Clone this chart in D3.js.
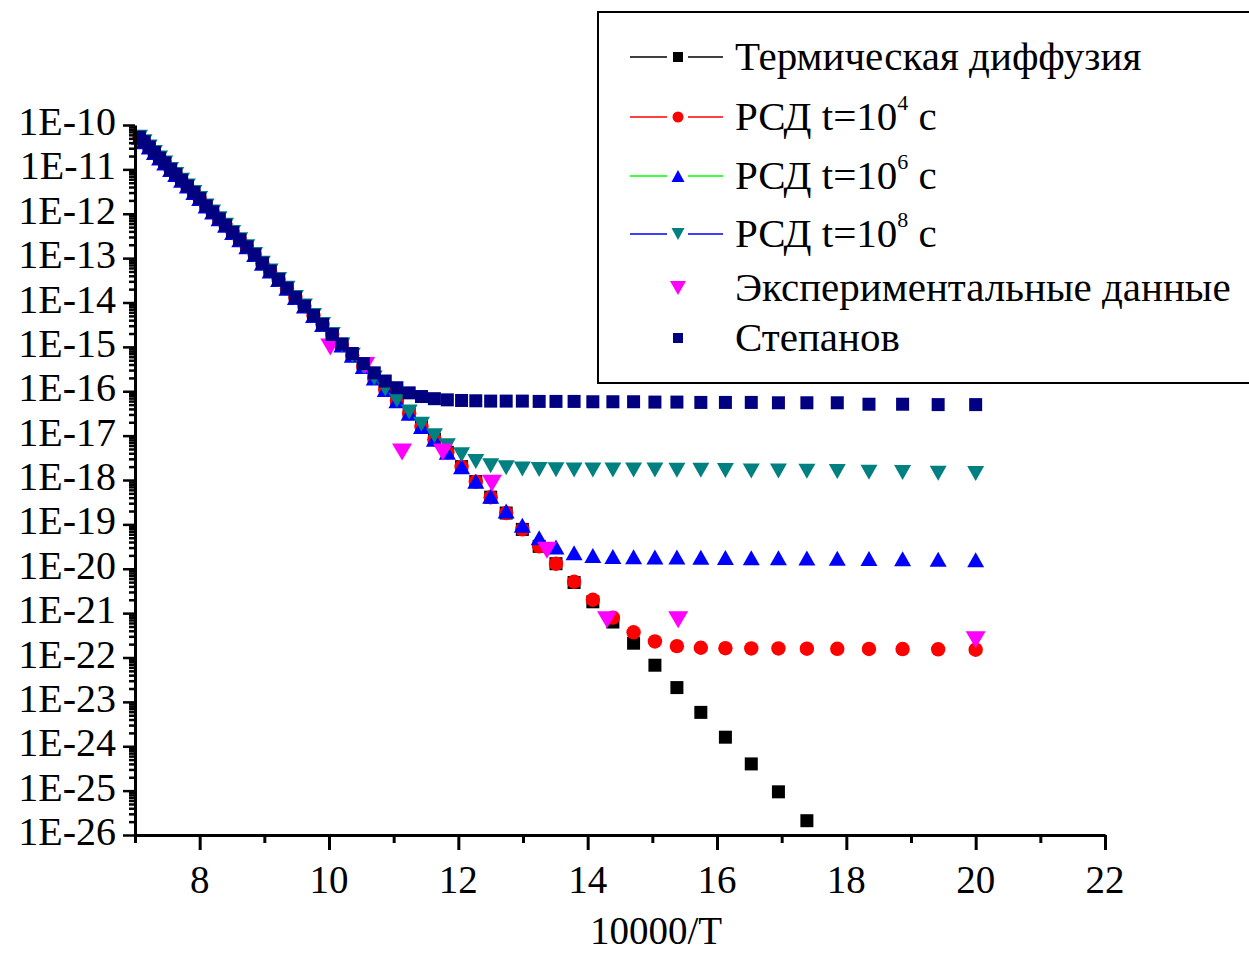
<!DOCTYPE html>
<html>
<head>
<meta charset="utf-8">
<script src="https://cdn.jsdelivr.net/npm/d3@7"></script>
<style>
  body { margin: 0; background: #ffffff; }
  text { font-family: "Liberation Serif", "Times New Roman", serif; fill: #000; }
</style>
</head>
<body>
<svg id="chart" width="1249" height="953"></svg>
<script>
// Reciprocal temperature grid, 10000/T (T from 1415 K down to 500 K)
const invT = [7.07, 7.14, 7.22, 7.30, 7.38, 7.46, 7.55, 7.63, 7.72, 7.81, 7.91, 8.00,
  8.10, 8.20, 8.30, 8.40, 8.51, 8.62, 8.73, 8.85, 8.97, 9.09,
  9.22, 9.35, 9.48, 9.62, 9.76, 9.90, 10.05,
  10.20, 10.36, 10.53, 10.70, 10.87, 11.05,
  11.24, 11.43, 11.63, 11.83, 12.05,
  12.27, 12.50, 12.74, 12.99, 13.25,
  13.51, 13.79, 14.08, 14.39, 14.71,
  15.04, 15.38, 15.75, 16.13, 16.53,
  16.95, 17.39, 17.86, 18.35, 18.87, 19.42, 20.00];

// Thermal diffusion coefficient (ends where it leaves the axis range)
const thermal = [5.3e-11, 4.2e-11, 3.2e-11, 2.4e-11, 1.8e-11, 1.4e-11, 1.0e-11, 7.7e-12, 5.7e-12, 4.2e-12, 3.0e-12, 2.2e-12,
  1.5e-12, 1.1e-12, 7.7e-13, 5.5e-13, 3.8e-13, 2.6e-13, 1.8e-13, 1.2e-13, 7.7e-14, 5.1e-14,
  3.3e-14, 2.1e-14, 1.3e-14, 8.3e-15, 5.1e-15, 3.2e-15, 1.9e-15,
  1.1e-15, 6.5e-16, 3.6e-16, 2.0e-16, 1.1e-16, 6.1e-17,
  3.2e-17, 1.6e-17, 8.3e-18, 4.2e-18, 2.0e-18,
  9.2e-19, 4.1e-19, 1.8e-19, 7.7e-20, 3.2e-20,
  1.3e-20, 4.9e-21, 1.8e-21, 6.3e-22, 2.1e-22,
  6.7e-23, 2.1e-23, 5.8e-24, 1.6e-24, 4.0e-25,
  9.4e-26, 2.1e-26];

// Radiation-stimulated diffusion, t = 1e4 s
const rsd4 = [5.3e-11, 4.2e-11, 3.2e-11, 2.4e-11, 1.8e-11, 1.4e-11, 1.0e-11, 7.7e-12, 5.7e-12, 4.2e-12, 3.0e-12, 2.2e-12,
  1.5e-12, 1.1e-12, 7.7e-13, 5.5e-13, 3.8e-13, 2.6e-13, 1.8e-13, 1.2e-13, 7.7e-14, 5.1e-14,
  3.3e-14, 2.1e-14, 1.3e-14, 8.3e-15, 5.1e-15, 3.2e-15, 1.9e-15,
  1.1e-15, 6.5e-16, 3.6e-16, 2.0e-16, 1.1e-16, 6.1e-17,
  3.2e-17, 1.6e-17, 8.3e-18, 4.2e-18, 2.0e-18,
  9.2e-19, 4.1e-19, 1.8e-19, 7.7e-20, 3.2e-20,
  1.3e-20, 5.1e-21, 2.0e-21, 7.9e-22, 3.7e-22,
  2.3e-22, 1.8e-22, 1.66e-22, 1.62e-22, 1.6e-22,
  1.6e-22, 1.58e-22, 1.57e-22, 1.56e-22, 1.55e-22, 1.53e-22, 1.5e-22];

// Radiation-stimulated diffusion, t = 1e6 s
const rsd6 = [5.3e-11, 4.2e-11, 3.2e-11, 2.4e-11, 1.8e-11, 1.4e-11, 1.0e-11, 7.7e-12, 5.7e-12, 4.2e-12, 3.0e-12, 2.2e-12,
  1.5e-12, 1.1e-12, 7.7e-13, 5.5e-13, 3.8e-13, 2.6e-13, 1.8e-13, 1.2e-13, 7.7e-14, 5.1e-14,
  3.3e-14, 2.1e-14, 1.3e-14, 8.3e-15, 5.1e-15, 3.2e-15, 1.9e-15,
  1.1e-15, 6.5e-16, 3.6e-16, 2.0e-16, 1.1e-16, 6.1e-17,
  3.2e-17, 1.6e-17, 8.3e-18, 4.2e-18, 2.0e-18,
  9.4e-19, 4.3e-19, 2.0e-19, 9.5e-20, 5.0e-20,
  3.1e-20, 2.3e-20, 2.0e-20, 1.9e-20, 1.86e-20,
  1.84e-20, 1.83e-20, 1.82e-20, 1.8e-20, 1.78e-20,
  1.76e-20, 1.74e-20, 1.72e-20, 1.7e-20, 1.67e-20, 1.63e-20, 1.6e-20];

// Radiation-stimulated diffusion, t = 1e8 s
const rsd8 = [5.3e-11, 4.2e-11, 3.2e-11, 2.4e-11, 1.8e-11, 1.4e-11, 1.0e-11, 7.7e-12, 5.7e-12, 4.2e-12, 3.0e-12, 2.2e-12,
  1.5e-12, 1.1e-12, 7.7e-13, 5.5e-13, 3.8e-13, 2.6e-13, 1.8e-13, 1.2e-13, 7.7e-14, 5.1e-14,
  3.3e-14, 2.1e-14, 1.3e-14, 8.3e-15, 5.1e-15, 3.2e-15, 1.9e-15,
  1.1e-15, 6.5e-16, 3.6e-16, 2.0e-16, 1.12e-16, 6.3e-17,
  3.4e-17, 1.8e-17, 1.0e-17, 5.9e-18, 3.7e-18,
  2.6e-18, 2.1e-18, 1.88e-18, 1.77e-18, 1.72e-18,
  1.7e-18, 1.69e-18, 1.68e-18, 1.68e-18, 1.67e-18,
  1.67e-18, 1.66e-18, 1.65e-18, 1.64e-18, 1.6e-18,
  1.6e-18, 1.58e-18, 1.56e-18, 1.5e-18, 1.48e-18, 1.42e-18, 1.4e-18];

// Stepanov model
const stepanov = [5.3e-11, 4.2e-11, 3.2e-11, 2.4e-11, 1.8e-11, 1.4e-11, 1.0e-11, 7.7e-12, 5.7e-12, 4.2e-12, 3.0e-12, 2.2e-12,
  1.5e-12, 1.1e-12, 7.7e-13, 5.5e-13, 3.8e-13, 2.6e-13, 1.8e-13, 1.2e-13, 7.7e-14, 5.1e-14,
  3.3e-14, 2.1e-14, 1.3e-14, 8.3e-15, 5.1e-15, 3.2e-15, 1.9e-15,
  1.16e-15, 7.1e-16, 4.2e-16, 2.6e-16, 1.7e-16, 1.2e-16,
  9.2e-17, 7.6e-17, 6.8e-17, 6.4e-17, 6.2e-17,
  6.1e-17, 6.0e-17, 6.0e-17, 6.0e-17, 5.9e-17,
  5.9e-17, 5.9e-17, 5.8e-17, 5.8e-17, 5.8e-17,
  5.7e-17, 5.7e-17, 5.6e-17, 5.6e-17, 5.6e-17,
  5.5e-17, 5.5e-17, 5.5e-17, 5.1e-17, 5.1e-17, 5.0e-17, 5.0e-17];

// Experimental points
const expX = [10.02, 10.56, 11.13, 11.76, 12.52, 13.37, 14.30, 15.40, 20.00];
const expD = [1.0e-15, 3.8e-16, 4.3e-18, 4.3e-18, 8.5e-19, 2.6e-20, 7.1e-22, 7.1e-22, 2.5e-22];

// Axis ticks
const xMajor = [8, 10, 12, 14, 16, 18, 20, 22];
const xMinor = [7, 9, 11, 13, 15, 17, 19, 21];
const yExponents = [-10, -11, -12, -13, -14, -15, -16, -17, -18, -19, -20, -21, -22, -23, -24, -25, -26];

const W = 1249, H = 953;
const m = { left: 135, right: 1105, top: 125, bottom: 835 };

const svg = d3.select("#chart");
svg.append("rect").attr("width", W).attr("height", H).attr("fill", "#fff");

const x = d3.scaleLinear().domain([7, 22]).range([m.left, m.right]);
const y = d3.scaleLog().domain([1e-26, 1e-10]).range([m.bottom, m.top]);

// ---- marker shapes ----
function square(s) { const h = s / 2; return `M${-h},${-h}H${h}V${h}H${-h}Z`; }
function triUp(w, h) { return `M0,${-h / 2}L${w / 2},${h / 2}L${-w / 2},${h / 2}Z`; }
function triDown(w, h) { return `M0,${h / 2}L${w / 2},${-h / 2}L${-w / 2},${-h / 2}Z`; }
function circle(r) { return d3.symbol(d3.symbolCircle, Math.PI * r * r)(); }

const series = [
  { name: "Термическая диффузия", xs: invT, ys: thermal, fill: "#000000", line: "#000000", path: square(13), lpath: square(10) },
  { name: "РСД t=10", sup: "4", xs: invT, ys: rsd4, fill: "#ff0000", line: "#ff0000", path: circle(7.2), lpath: circle(5.5) },
  { name: "РСД t=10", sup: "6", xs: invT, ys: rsd6, fill: "#0000ff", line: "#00ff00", path: triUp(17, 15), lpath: triUp(13, 12) },
  { name: "РСД t=10", sup: "8", xs: invT, ys: rsd8, fill: "#008080", line: "#0000ff", path: triDown(17, 15), lpath: triDown(13, 12) },
  { name: "Экспериментальные данные", xs: expX, ys: expD, fill: "#ff00ff", line: null, path: triDown(20, 17), lpath: triDown(16, 14) },
  { name: "Степанов", xs: invT, ys: stepanov, fill: "#000080", line: null, path: square(13), lpath: square(10) }
];

// ---- data markers ----
const plot = svg.append("g");
series.forEach(s => {
  const pts = s.ys.map((v, i) => [s.xs[i], v]);
  plot.append("g").selectAll("path").data(pts).join("path")
    .attr("d", s.path)
    .attr("transform", d => `translate(${x(d[0])},${y(d[1])})`)
    .attr("fill", s.fill);
});

// ---- axes ----
const axisColor = "#000";
const xAxisG = svg.append("g").attr("transform", `translate(0,${m.bottom})`);
xAxisG.call(d3.axisBottom(x).tickValues(xMajor).tickSize(15).tickSizeOuter(0).tickFormat(""));
xAxisG.append("g").call(d3.axisBottom(x).tickValues(xMinor).tickSize(8).tickSizeOuter(0).tickFormat(""))
  .select(".domain").remove();
xAxisG.selectAll(".tick line").attr("stroke", axisColor).attr("stroke-width", 3);
xAxisG.select(".domain").attr("stroke", axisColor).attr("stroke-width", 3);

svg.append("g").selectAll("text").data(xMajor).join("text")
  .attr("x", d => x(d)).attr("y", 893)
  .attr("text-anchor", "middle").attr("font-size", 39)
  .text(d => d);

const decades = yExponents.map(e => Math.pow(10, e));
const minorY = [];
yExponents.slice(1).forEach(e => { for (let k = 2; k <= 9; k++) minorY.push(k * Math.pow(10, e)); });

const yAxisG = svg.append("g").attr("transform", `translate(${m.left},0)`);
yAxisG.call(d3.axisLeft(y).tickValues(decades).tickSize(12).tickSizeOuter(0).tickFormat(""));
yAxisG.append("g").call(d3.axisLeft(y).tickValues(minorY).tickSize(6).tickSizeOuter(0).tickFormat(""))
  .select(".domain").remove();
yAxisG.selectAll(".tick line").attr("stroke", axisColor).attr("stroke-width", 2.5);
yAxisG.select(".domain").attr("stroke", axisColor).attr("stroke-width", 3);

svg.append("g").selectAll("text").data(yExponents).join("text")
  .attr("x", 116).attr("y", d => y(Math.pow(10, d)) + 10)
  .attr("text-anchor", "end").attr("font-size", 40)
  .text(d => "1E" + d);

svg.append("text").attr("x", 656).attr("y", 944)
  .attr("text-anchor", "middle").attr("font-size", 39)
  .text("10000/T");

// ---- legend ----
const lg = svg.append("g");
lg.append("rect").attr("x", 598).attr("y", 12).attr("width", 660).attr("height", 371)
  .attr("fill", "#fff").attr("stroke", "#000").attr("stroke-width", 2);
const rowY = [57, 117, 176, 234, 288, 338];
series.forEach((s, i) => {
  const cy = rowY[i];
  if (s.line) {
    lg.append("line").attr("x1", 630).attr("x2", 667).attr("y1", cy).attr("y2", cy)
      .attr("stroke", s.line).attr("stroke-width", 1.5);
    lg.append("line").attr("x1", 688).attr("x2", 723).attr("y1", cy).attr("y2", cy)
      .attr("stroke", s.line).attr("stroke-width", 1.5);
  }
  lg.append("path").attr("d", s.lpath).attr("transform", `translate(678,${cy})`).attr("fill", s.fill);
  const t = lg.append("text").attr("x", 735).attr("y", cy + 13).attr("font-size", 41);
  t.append("tspan").text(s.name);
  if (s.sup) {
    t.append("tspan").attr("font-size", 22).attr("dy", -20).text(s.sup);
    t.append("tspan").attr("dy", 20).text(" c");
  }
});
</script>
</body>
</html>
